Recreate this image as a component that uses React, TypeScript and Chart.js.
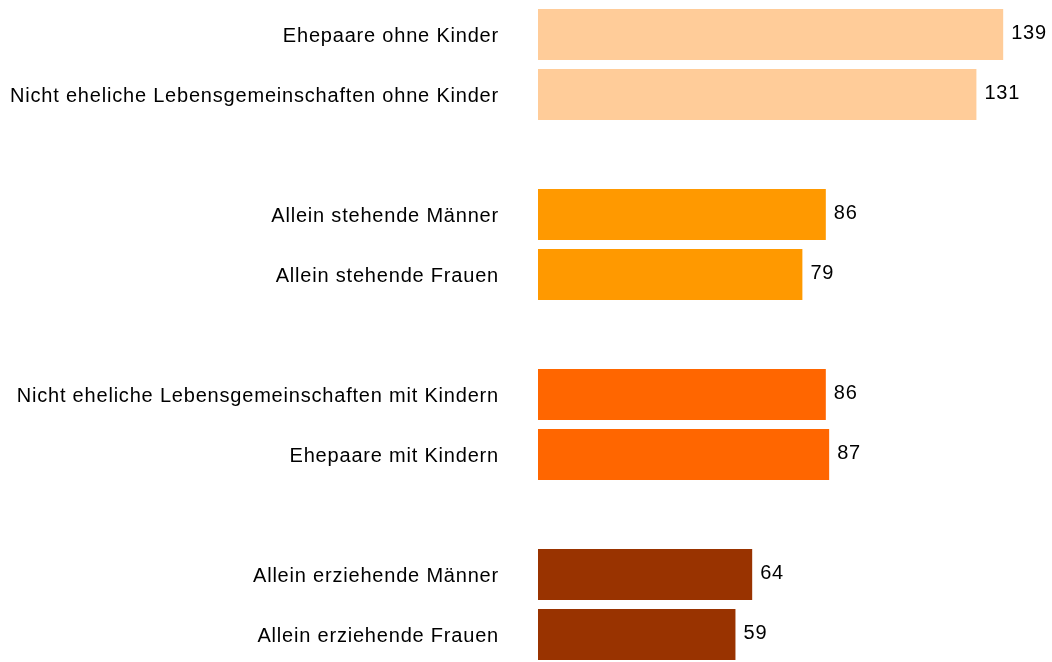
import React, { useEffect, useRef } from "react";
import { Chart, registerables } from "chart.js";

Chart.register(...registerables);

const categories: string[] = [
  "Ehepaare ohne Kinder",
  "Nicht eheliche Lebensgemeinschaften ohne Kinder",
  "",
  "Allein stehende Männer",
  "Allein stehende Frauen",
  "",
  "Nicht eheliche Lebensgemeinschaften mit Kindern",
  "Ehepaare mit Kindern",
  "",
  "Allein erziehende Männer",
  "Allein erziehende Frauen",
];

const values: (number | null)[] = [139, 131, null, 86, 79, null, 86, 87, null, 64, 59];

const barColors: string[] = [
  "#FFCC99", "#FFCC99", "#FFFFFF",
  "#FF9900", "#FF9900", "#FFFFFF",
  "#FF6600", "#FF6600", "#FFFFFF",
  "#993300", "#993300",
];

const FONT_FAMILY = "'Liberation Sans', Arial, sans-serif";
const FONT_SIZE = 20;
const LETTER_SPACING = "0.8px";

const valueLabels = {
  id: "valueLabels",
  beforeDraw(chart: any) {
    chart.ctx.letterSpacing = LETTER_SPACING;
  },
  afterDatasetsDraw(chart: any) {
    const ctx = chart.ctx;
    const meta = chart.getDatasetMeta(0);
    const data = chart.data.datasets[0].data;
    ctx.save();
    ctx.letterSpacing = LETTER_SPACING;
    ctx.font = `${FONT_SIZE}px ${FONT_FAMILY}`;
    ctx.fillStyle = "#000000";
    ctx.textAlign = "left";
    ctx.textBaseline = "middle";
    meta.data.forEach((el: any, i: number) => {
      const v = data[i];
      if (v === null || v === undefined) return;
      ctx.fillText(String(v), el.x + 8, el.y - 1);
    });
    ctx.restore();
  },
};

export default function App() {
  const canvasRef = useRef<HTMLCanvasElement | null>(null);

  useEffect(() => {
    if (!canvasRef.current) return;
    const chart = new Chart(canvasRef.current, {
      type: "bar",
      data: {
        labels: categories,
        datasets: [
          {
            data: values,
            backgroundColor: barColors,
            borderWidth: 0,
            barPercentage: 0.85,
            categoryPercentage: 1,
          },
        ],
      },
      options: {
        indexAxis: "y",
        responsive: false,
        animation: false,
        devicePixelRatio: 1,
        layout: { padding: { left: 0, right: 12, top: 4.5, bottom: 0.5 } },
        plugins: {
          legend: { display: false },
          tooltip: { enabled: false },
        },
        scales: {
          x: {
            display: false,
            min: 0,
            max: 150,
          },
          y: {
            type: "category",
            border: { display: false },
            grid: { display: false, drawTicks: false, tickLength: 0 },
            ticks: {
              padding: 39,
              labelOffset: 1.5,
              color: "#000000",
              font: { family: FONT_FAMILY, size: FONT_SIZE },
              autoSkip: false,
            },
            afterFit: (scale: any) => {
              scale.width = 538;
              scale.paddingTop = 0;
              scale.paddingBottom = 0;
            },
          },
        },
      },
      plugins: [valueLabels],
    });
    return () => chart.destroy();
  }, []);

  return (
    <div
      style={{
        position: "fixed",
        left: 0,
        top: 0,
        width: 1052,
        height: 662,
        overflow: "hidden",
        background: "#ffffff",
      }}
    >
      <canvas ref={canvasRef} width={1052} height={665} style={{ display: "block" }} />
    </div>
  );
}
